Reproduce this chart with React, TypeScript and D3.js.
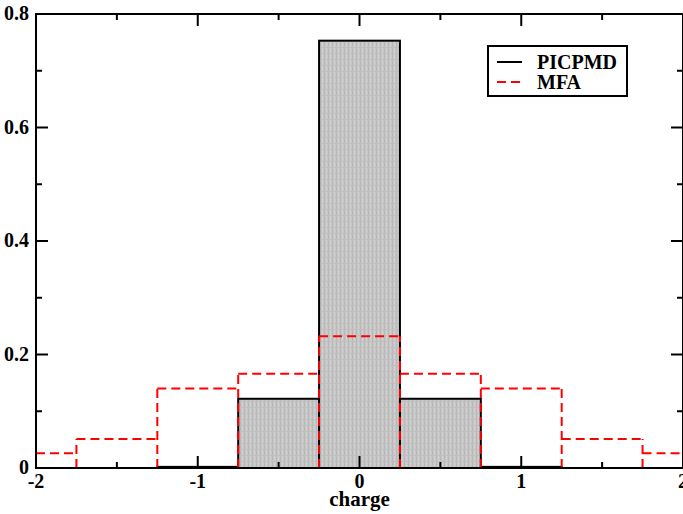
import React from "react";
import * as d3 from "d3";

const binCenters = [-2, -1.5, -1, -0.5, 0, 0.5, 1, 1.5, 2];
const picpmd = [0, 0, 0.002, 0.122, 0.753, 0.122, 0.002, 0, 0];
const mfa = [0.026, 0.051, 0.14, 0.166, 0.232, 0.166, 0.14, 0.051, 0.026];
const xTicks = [-2, -1, 0, 1, 2];
const xMinor = [-1.5, -0.5, 0.5, 1.5];
const yTicks = [0, 0.2, 0.4, 0.6, 0.8];
const yTickLabels = ["0", "0.2", "0.4", "0.6", "0.8"];
const yMinor = [0.1, 0.3, 0.5, 0.7];
const binWidth = 0.5;

const W = 683, H = 514;
const L = 36, R = 683, T = 14, B = 468;
const font = "'Liberation Serif', 'DejaVu Serif', serif";

export default function App() {
  const x = d3.scaleLinear().domain([-2, 2]).range([L, R]);
  const y = d3.scaleLinear().domain([0, 0.8]).range([B, T]);

  const edges = binCenters.map((c) => Math.max(-2, c - binWidth / 2));
  const lastEdge = Math.min(2, binCenters[binCenters.length - 1] + binWidth / 2);

  // top outline of MFA steps
  let top = "";
  binCenters.forEach((c, i) => {
    const x0 = x(Math.max(-2, c - binWidth / 2));
    const x1 = x(Math.min(2, c + binWidth / 2));
    top += `M${x0},${y(mfa[i])}H${x1}`;
  });
  const verticals = edges.slice(1).map((e, k) => ({
    e,
    h: Math.max(mfa[k], mfa[k + 1]),
  }));

  return (
    <svg width={W} height={H} style={{ position: "absolute", left: 0, top: 0, background: "#fff" }}>
      <defs>
        <pattern id="tex" width="4" height="6" patternUnits="userSpaceOnUse">
          <rect width="4" height="6" fill="#c6c6c6" />
          <rect x="0" width="1" height="6" fill="#b8b8b8" />
          <rect x="2" width="1" height="6" fill="#d0d0d0" />
          <rect y="5" width="4" height="1" fill="#bfbfbf" />
        </pattern>
      </defs>
      {/* PICPMD bars */}
      {binCenters.map((c, i) => {
        const x0 = x(Math.max(-2, c - binWidth / 2));
        const x1 = x(Math.min(2, c + binWidth / 2));
        return (
          <rect key={i} x={x0} y={y(picpmd[i])} width={x1 - x0} height={y(0) - y(picpmd[i])}
            fill="url(#tex)" stroke="#000" strokeWidth={2} />
        );
      })}
      {/* MFA */}
      <path d={top} fill="none" stroke="#ff0000" strokeWidth={2} strokeDasharray="9,5" />
      {verticals.map((v, k) => (
        <line key={"v" + k} x1={x(v.e)} x2={x(v.e)} y1={y(0)} y2={y(v.h)} stroke="#ff0000"
          strokeWidth={2} strokeDasharray="9,5" />
      ))}
      <line x1={x(lastEdge)} x2={x(lastEdge)} y1={y(0)} y2={y(mfa[mfa.length - 1])} stroke="#ff0000" strokeWidth={2} strokeDasharray="9,5" />
      {/* frame */}
      <rect x={L} y={T} width={R - L} height={B - T} fill="none" stroke="#000" strokeWidth={2} />
      {/* ticks */}
      {xTicks.map((t) => (
        <g key={"xt" + t}>
          <line x1={x(t)} x2={x(t)} y1={B} y2={B - 12} stroke="#000" strokeWidth={2} />
          <line x1={x(t)} x2={x(t)} y1={T} y2={T + 12} stroke="#000" strokeWidth={2} />
          <text x={x(t)} y={B + 20} textAnchor="middle" fontFamily={font} fontWeight="bold" fontSize={20}>
            {t}
          </text>
        </g>
      ))}
      {xMinor.map((t) => (
        <g key={"xm" + t}>
          <line x1={x(t)} x2={x(t)} y1={B} y2={B - 6} stroke="#000" strokeWidth={2} />
          <line x1={x(t)} x2={x(t)} y1={T} y2={T + 6} stroke="#000" strokeWidth={2} />
        </g>
      ))}
      {yTicks.map((t, i) => (
        <g key={"yt" + t}>
          <line x1={L} x2={L + 12} y1={y(t)} y2={y(t)} stroke="#000" strokeWidth={2} />
          <line x1={R} x2={R - 12} y1={y(t)} y2={y(t)} stroke="#000" strokeWidth={2} />
          <text x={L - 7} y={y(t) + 6} textAnchor="end" fontFamily={font} fontWeight="bold" fontSize={20}>
            {yTickLabels[i]}
          </text>
        </g>
      ))}
      {yMinor.map((t) => (
        <g key={"ym" + t}>
          <line x1={L} x2={L + 6} y1={y(t)} y2={y(t)} stroke="#000" strokeWidth={2} />
          <line x1={R} x2={R - 6} y1={y(t)} y2={y(t)} stroke="#000" strokeWidth={2} />
        </g>
      ))}
      <text x={(L + R) / 2} y={506} textAnchor="middle" fontFamily={font} fontWeight="bold" fontSize={21}>
        charge
      </text>
      {/* legend */}
      <rect x={488} y={46} width={139} height={50} fill="#fff" stroke="#000" strokeWidth={2} />
      <line x1={497} x2={522} y1={62} y2={62} stroke="#000" strokeWidth={2} />
      <line x1={497} x2={522} y1={82} y2={82} stroke="#ff0000" strokeWidth={2} strokeDasharray="9,5" />
      <text x={537} y={69} fontFamily={font} fontWeight="bold" fontSize={20}>PICPMD</text>
      <text x={537} y={89} fontFamily={font} fontWeight="bold" fontSize={20}>MFA</text>
    </svg>
  );
}
